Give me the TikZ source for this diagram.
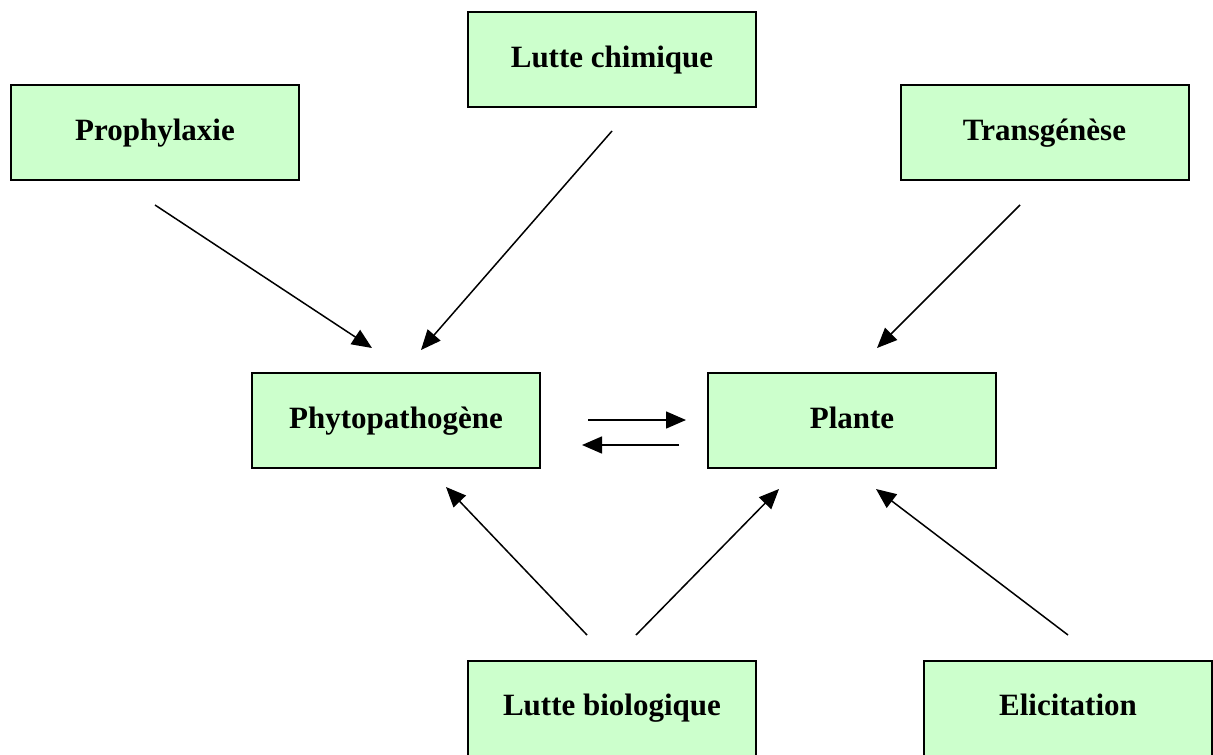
\documentclass[tikz,border=0pt]{standalone}
\usepackage{fontspec}
\setmainfont{Liberation Serif}
\usetikzlibrary{arrows.meta}
\definecolor{boxgreen}{HTML}{CCFFCC}
\tikzset{
  box/.style={draw=black, line width=2pt, fill=boxgreen, minimum width=288pt, minimum height=95pt, inner sep=0pt, text height=22pt, text depth=7pt, font=\fontsize{31}{35}\selectfont\bfseries},
  arr/.style={line width=1.5pt, -{Triangle[length=20pt,width=17pt]}}
}
\begin{document}
\begin{tikzpicture}[x=1pt,y=-1pt]
\useasboundingbox (0,0) rectangle (1213,755);
\node[box] (proph) at (155,132.5) {Prophylaxie};
\node[box] (chim) at (612,59.5) {Lutte chimique};
\node[box] (trans) at (1044.5,132.5) {Transgénèse};
\node[box] (phyto) at (396,420.5) {Phytopathogène};
\node[box] (plante) at (852,420.5) {Plante};
\node[box] (bio) at (612,708) {Lutte biologique};
\node[box] (elic) at (1068,708) {Elicitation};
\coordinate (a1s) at (155,205); \coordinate (a1e) at (372,348);
\coordinate (a2s) at (612,131); \coordinate (a2e) at (421,350);
\coordinate (a3s) at (1020,205); \coordinate (a3e) at (877,348);
\coordinate (a4s) at (588,420); \coordinate (a4e) at (686,420);
\coordinate (a5s) at (679,445); \coordinate (a5e) at (582,445);
\coordinate (a6s) at (587,635); \coordinate (a6e) at (446,487);
\coordinate (a7s) at (636,635); \coordinate (a7e) at (779,489);
\coordinate (a8s) at (1068,635); \coordinate (a8e) at (876,489);
\draw[arr] (a1s) -- (a1e);
\draw[arr] (a2s) -- (a2e);
\draw[arr] (a3s) -- (a3e);
\draw[arr] (a4s) -- (a4e);
\draw[arr] (a5s) -- (a5e);
\draw[arr] (a6s) -- (a6e);
\draw[arr] (a7s) -- (a7e);
\draw[arr] (a8s) -- (a8e);
\end{tikzpicture}
\end{document}
